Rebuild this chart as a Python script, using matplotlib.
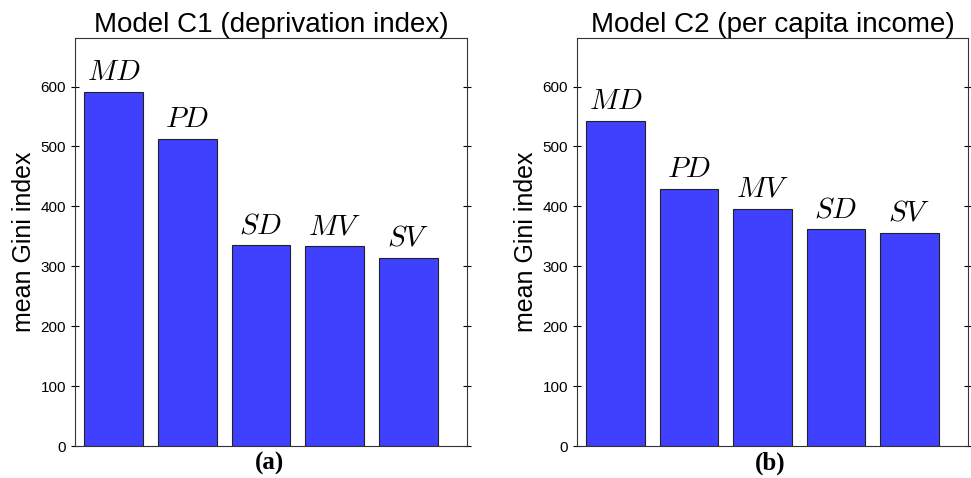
import matplotlib.pyplot as plt

# Mean Gini index per model variant
labels_c1 = ['MD', 'PD', 'SD', 'MV', 'SV']
gini_c1 = [591, 512, 335, 333, 314]

labels_c2 = ['MD', 'PD', 'MV', 'SD', 'SV']
gini_c2 = [543, 429, 396, 362, 356]

titles = ['Model C1 (deprivation index)', 'Model C2 (per capita income)']
panel_tags = ['(a)', '(b)']

plt.rcParams['font.family'] = ['Liberation Sans', 'DejaVu Sans']
plt.rcParams['mathtext.fontset'] = 'cm'

fig = plt.figure(figsize=(9.71, 4.78), dpi=100)
W, H = 971, 478
boxes = [(75, 38, 467, 446), (577, 38, 968, 446)]

for (x0, y0, x1, y1), labels, vals, title, tag in zip(
        boxes, [labels_c1, labels_c2], [gini_c1, gini_c2], titles, panel_tags):
    ax = fig.add_axes([x0 / W, 1 - y1 / H, (x1 - x0) / W, (y1 - y0) / H])
    pos = range(len(vals))
    ax.bar(pos, vals, width=0.8, color='#4040ff', edgecolor='#222222', linewidth=0.8)
    for p, v, lab in zip(pos, vals, labels):
        ax.text(p, v + 10, '$' + lab + '$', ha='center', va='bottom', fontsize=21)
    ax.set_xlim(-0.527, 4.8)
    ax.set_ylim(0, 681)
    ax.set_yticks(range(0, 700, 100))
    ax.set_xticks([])
    ax.tick_params(axis='y', labelsize=11, direction='inout', length=6, width=0.8, right=True)
    ax.set_title(title, fontsize=20, pad=3)
    ax.set_ylabel('mean Gini index', fontsize=18, labelpad=3)
    for s in ax.spines.values():
        s.set_color('#333333')
    fig.text((x0 + x1) / 2 / W - 2 / W, 1 - 463 / H, tag, ha='center', va='center',
             fontsize=18, fontweight='bold', family='Liberation Serif')

fig.savefig('out.png', dpi=100)
